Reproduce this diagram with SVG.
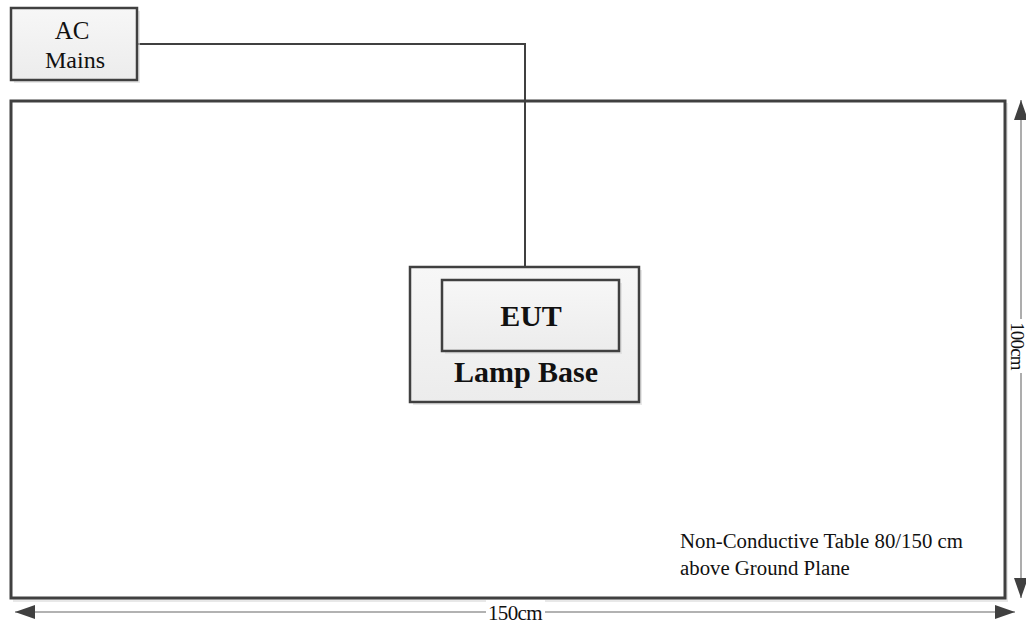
<svg xmlns="http://www.w3.org/2000/svg" width="1026" height="625" viewBox="0 0 1026 625">
<style>
.box{fill:url(#g);stroke:#404040;stroke-width:2.5}
.shadow{fill:#d9d9d9;opacity:0.6}
.t{font-family:"Liberation Serif",serif;fill:#111}
.b{font-weight:bold}
.wire{fill:none;stroke:#404040;stroke-width:2}
.dim{stroke:#999;stroke-width:1.6;fill:none}
</style>
<defs>
<linearGradient id="g" x1="0" y1="0" x2="0" y2="1"><stop offset="0" stop-color="#f7f7f7"/><stop offset="1" stop-color="#ececec"/></linearGradient>
<marker id="ah" viewBox="0 0 20 14" refX="20" refY="7" markerWidth="20" markerHeight="14" markerUnits="userSpaceOnUse" orient="auto-start-reverse"><path d="M0,0 L20,7 L0,14 z" fill="#404040"/></marker>
</defs>
<rect width="1026" height="625" fill="#fff"/>
<g id="table">
<rect x="13" y="103" width="995" height="499" class="shadow"/>
<rect x="11" y="101" width="994" height="497" fill="#fff" stroke="#404040" stroke-width="3"/>
<text x="680" y="548" class="t" font-size="20.8">Non-Conductive Table 80/150 cm</text>
<text x="680" y="575" class="t" font-size="20.8">above Ground Plane</text>
</g>
<g id="connectors">
<path d="M137,44 H525 V267" class="wire"/>
</g>
<g id="ac-mains">
<rect x="14" y="11" width="126" height="72" class="shadow"/>
<rect x="11" y="8" width="126" height="72" class="box"/>
<text x="72" y="39" class="t" font-size="25" text-anchor="middle">AC</text>
<text x="75" y="68" class="t" font-size="24" text-anchor="middle">Mains</text>
</g>
<g id="lamp-base">
<rect x="413" y="270" width="229" height="135" class="shadow"/>
<rect x="410" y="267" width="229" height="135" class="box"/>
<text x="526" y="382" class="t b" font-size="30" text-anchor="middle">Lamp Base</text>
</g>
<g id="eut">
<rect x="445" y="283" width="177" height="71" class="shadow"/>
<rect x="442" y="280" width="177" height="71" class="box"/>
<text x="531" y="326" class="t b" font-size="30" text-anchor="middle">EUT</text>
</g>
<g id="dimensions">
<line x1="15" y1="612" x2="1015" y2="612" class="dim" marker-start="url(#ah)" marker-end="url(#ah)"/>
<rect x="486" y="600" width="59" height="22" fill="#fff"/>
<text x="515" y="620" class="t" font-size="21" text-anchor="middle" letter-spacing="-0.6">150cm</text>
<line x1="1021" y1="100" x2="1021" y2="598" class="dim" marker-start="url(#ah)" marker-end="url(#ah)"/>
<rect x="1009" y="319" width="20" height="54" fill="#fff"/>
<text x="0" y="0" class="t" font-size="19" text-anchor="middle" letter-spacing="-0.8" transform="translate(1011,346) rotate(90)">100cm</text>
</g>
</svg>
